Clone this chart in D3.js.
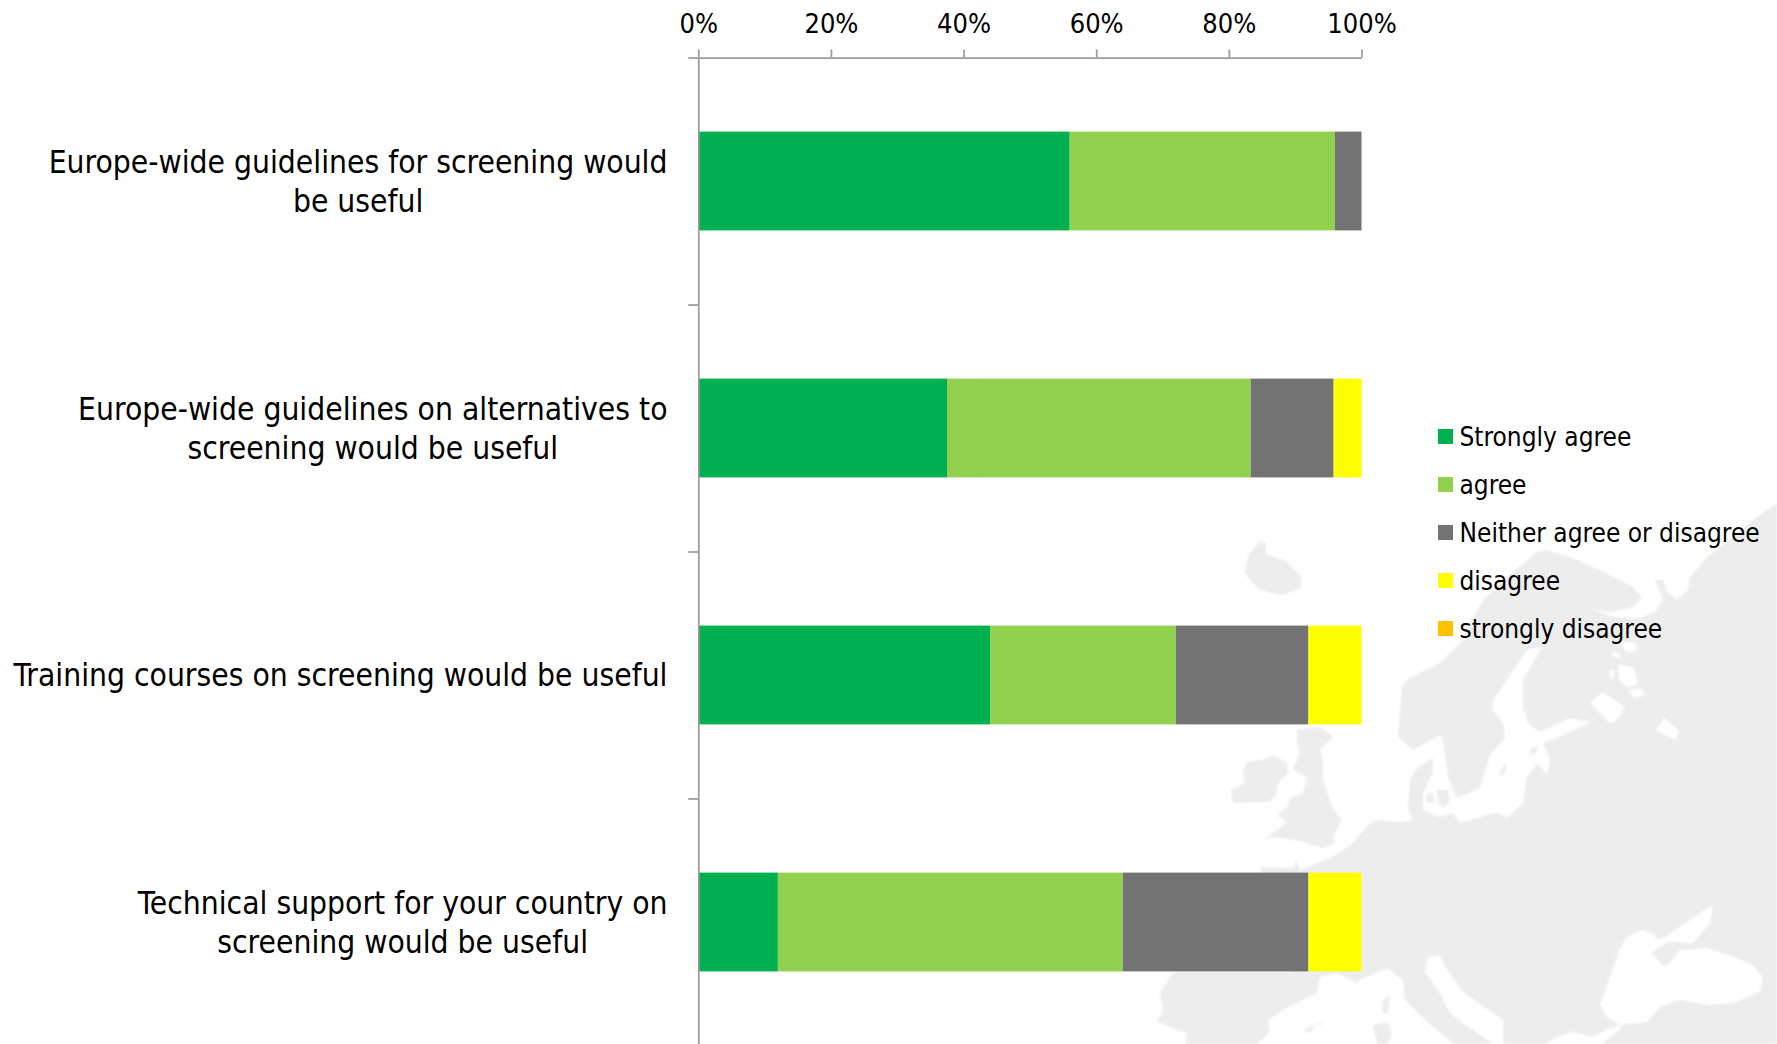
<!DOCTYPE html>
<html>
<head>
<meta charset="utf-8">
<script src="https://d3js.org/d3.v7.min.js"></script>
<style>
  html, body { margin: 0; padding: 0; background: #fff; }
  svg { display: block; }
  text { font-family: "DejaVu Sans", sans-serif; font-stretch: condensed; fill: #000; }
</style>
</head>
<body>
<svg id="chart" width="1777" height="1044"></svg>
<script>
// Survey answers, percent of respondents per statement
const statements = [
  ["Europe-wide guidelines for screening would", "be useful"],
  ["Europe-wide guidelines on alternatives to", "screening would be useful"],
  ["Training courses on screening would be useful"],
  ["Technical support for your country on", "screening would be useful"]
];
const answers = ["Strongly agree", "agree", "Neither agree or disagree", "disagree", "strongly disagree"];
const answerColours = ["#00b050", "#92d050", "#737373", "#ffff00", "#ffc000"];
const stronglyAgree = [56, 37.5, 44, 12];
const agree = [40, 45.8, 28, 52];
const neither = [4, 12.5, 20, 28];
const disagree = [0, 4.2, 8, 8];
const stronglyDisagree = [0, 0, 0, 0];
const percentTicks = [0, 20, 40, 60, 80, 100];

// Simplified outline of Europe for the pale backdrop, in page units
const mainland = [[1777,503],[1753,520],[1733,537],[1707,557],[1690,577],[1688,590],[1677,600],[1667,592],[1663,580],[1655,580],[1663,600],[1655,612],[1640,618],[1618,618],[1592,610],[1610,612],[1633,607],[1642,598],[1633,587],[1603,572],[1570,557],[1545,550],[1537,552],[1507,577],[1483,600],[1460,643],[1440,663],[1407,680],[1402,687],[1398,737],[1413,750],[1440,735],[1443,740],[1448,777],[1457,798],[1480,788],[1490,755],[1505,738],[1503,723],[1492,710],[1493,700],[1507,680],[1527,650],[1542,647],[1523,680],[1523,713],[1525,710],[1528,723],[1540,732],[1570,718],[1592,722],[1563,735],[1543,743],[1550,760],[1547,775],[1537,763],[1527,777],[1523,803],[1507,818],[1498,812],[1460,823],[1453,813],[1437,817],[1423,810],[1423,793],[1433,773],[1433,758],[1417,768],[1410,780],[1408,807],[1412,820],[1403,822],[1380,820],[1370,823],[1353,843],[1333,857],[1313,865],[1300,870],[1297,860],[1293,868],[1260,867],[1262,873],[1290,900],[1300,950],[1290,972],[1173,972],[1160,993],[1163,1010],[1157,1022],[1187,1033],[1185,1044],[1257,1044],[1270,1032],[1268,1020],[1283,1010],[1317,993],[1320,977],[1337,973],[1357,983],[1360,980],[1387,968],[1403,980],[1405,1000],[1427,1022],[1450,1040],[1452,1044],[1777,1044]];
const adriatic = [[1425,972],[1440,993],[1450,1013],[1463,1023],[1493,1044],[1503,1044],[1503,1020],[1463,992],[1457,983],[1445,967],[1440,955],[1428,957]];
const aegean = [[1543,1045],[1557,1037],[1573,1032],[1593,1037],[1605,1030],[1620,1025],[1621,1029],[1600,1045]];
const blackSea = [[1620,1025],[1647,1022],[1660,1007],[1680,1000],[1710,1005],[1733,1003],[1760,992],[1763,978],[1753,965],[1737,958],[1707,948],[1680,950],[1668,965],[1662,965],[1652,952],[1668,942],[1693,943],[1710,923],[1713,905],[1700,913],[1665,937],[1657,940],[1655,935],[1642,930],[1627,937],[1618,953],[1610,977],[1600,1005],[1607,1017]];
const ladoga = [[1603,692],[1625,707],[1617,720],[1610,723],[1590,703]];
const onega = [[1663,717],[1678,730],[1677,740],[1670,737],[1655,730],[1661,724]];
const karelianLakes = [[[1620,642],[1636,643],[1637,651],[1626,652]],[[1612,652],[1621,654],[1620,658],[1613,657]],[[1618,664],[1634,668],[1638,684],[1628,688],[1619,680]],[[1628,690],[1642,688],[1645,695],[1634,698]],[[1610,670],[1614,668],[1613,678],[1610,678]]];
const iceland = [[1245,572],[1249,554],[1260,541],[1266,543],[1266,554],[1286,561],[1301,577],[1301,588],[1281,595],[1260,590],[1249,579]];
const britain = [[1297,730],[1320,727],[1333,737],[1320,750],[1323,763],[1323,780],[1332,807],[1342,820],[1333,837],[1335,843],[1322,848],[1297,840],[1273,837],[1263,840],[1280,828],[1287,822],[1277,815],[1287,807],[1292,797],[1303,793],[1307,777],[1297,773],[1293,768],[1300,753],[1297,743]];
const ireland = [[1247,762],[1263,760],[1273,755],[1287,763],[1288,773],[1278,783],[1275,797],[1268,802],[1233,803],[1231,790],[1245,783],[1243,772]];
const corsica = [[1390,995],[1388,1013],[1382,1013],[1383,1000]];
const sardinia = [[1373,1025],[1388,1022],[1392,1033],[1388,1044],[1377,1044]];
const balearics = [[[1303,1030],[1316,1024],[1310,1033]],[[1318,1023],[1322,1022],[1321,1026]]];
const danishIslands = [[[1426,794],[1433,793],[1434,802],[1427,803]],[[1437,790],[1448,790],[1450,802],[1443,808],[1438,803]]];
const gotland = [[1499,774],[1505,763],[1507,767],[1503,776]];
const saaremaa = [[1530,749],[1538,746],[1536,754],[1531,754]];

const sharesByAnswer = [stronglyAgree, agree, neither, disagree, stronglyDisagree];
const svg = d3.select("#chart");

// Backdrop map, softened a little so the coast does not look cut out
const defs = svg.append("defs");
defs.append("filter").attr("id", "soft").append("feGaussianBlur").attr("stdDeviation", 0.8);
const mapPath = d3.geoPath(d3.geoIdentity());
const closed = ring => [...ring, ring[0]];
const polygon = ring => ({ type: "Polygon", coordinates: [closed(ring)] });
const backdrop = svg.append("g").attr("filter", "url(#soft)");
const land = [mainland, iceland, britain, ireland, corsica, sardinia, ...balearics, ...danishIslands];
const water = [adriatic, aegean, blackSea, ladoga, onega, ...karelianLakes];
backdrop.selectAll("path.land").data(land).join("path")
  .attr("class", "land").attr("fill", "#ededed").attr("d", d => mapPath(polygon(d)));
backdrop.selectAll("path.water").data(water).join("path")
  .attr("class", "water").attr("fill", "#fff").attr("d", d => mapPath(polygon(d)));
backdrop.selectAll("path.isle").data([gotland, saaremaa]).join("path")
  .attr("class", "isle").attr("fill", "#ededed").attr("d", d => mapPath(polygon(d)));

// Scales
const x = d3.scaleLinear().domain([0, 100]).range([698.3, 1361.5]);
const y = d3.scaleBand().domain(d3.range(statements.length)).range([57.5, 1045.5])
  .paddingInner(0.6).paddingOuter(0.3);
const bandEdges = d3.scaleLinear().domain([0, statements.length]).range([57.5, 1045.5]);

// Stacked bars
const stack = d3.stack().keys(d3.range(answers.length)).value((row, k) => row[k]);
const rows = statements.map((_, i) => sharesByAnswer.map(s => s[i]));
svg.append("g").selectAll("g").data(stack(rows)).join("g")
  .attr("fill", s => answerColours[s.key])
  .selectAll("rect").data(s => s.map((d, i) => ({ d, i }))).join("rect")
  .attr("x", e => x(e.d[0])).attr("width", e => x(e.d[1]) - x(e.d[0]))
  .attr("y", e => y(e.i)).attr("height", y.bandwidth());

// Axes
const axisColour = "#9c9c9c";
const topAxis = svg.append("g").attr("transform", "translate(0,57.5)")
  .call(d3.axisTop(x).tickValues(percentTicks).tickFormat(v => v + "%").tickSize(8).tickSizeOuter(0).tickPadding(17));
const leftAxis = svg.append("g").attr("transform", "translate(698.3,0)")
  .call(d3.axisLeft(bandEdges).tickValues(d3.range(statements.length + 1)).tickFormat("").tickSize(10).tickSizeOuter(0));
[topAxis, leftAxis].forEach(a => {
  a.selectAll("path.domain, line").attr("stroke", axisColour).attr("stroke-width", 1.75);
});
topAxis.selectAll("text").style("font-size", "27px").attr("fill", "#000");

// Statement labels: block sits flush right, lines centred within it
const labelRight = 667.5, lineGap = 38.5, labelSize = 31.5;
const labels = svg.append("g");
statements.forEach((lines, i) => {
  const block = labels.append("text").style("font-size", labelSize + "px").attr("text-anchor", "middle");
  const spans = lines.map((line, j) => block.append("tspan").text(line)
    .attr("y", y(i) + y.bandwidth() / 2 + (j - (lines.length - 1) / 2) * lineGap)
    .attr("dy", "0.36em"));
  const widest = d3.max(spans, s => s.node().getComputedTextLength());
  spans.forEach(s => s.attr("x", labelRight - widest / 2));
});

// Legend
const legendRow = d3.scaleLinear().domain([0, 4]).range([436.5, 628.5]);
const legend = svg.append("g").selectAll("g").data(answers).join("g")
  .attr("transform", (_, i) => `translate(1438,${legendRow(i)})`);
legend.append("rect").attr("y", -7.5).attr("width", 15).attr("height", 15).attr("fill", (_, i) => answerColours[i]);
legend.append("text").attr("x", 21.5).attr("dy", "0.36em").style("font-size", "26px").text(d => d);
</script>
</body>
</html>
